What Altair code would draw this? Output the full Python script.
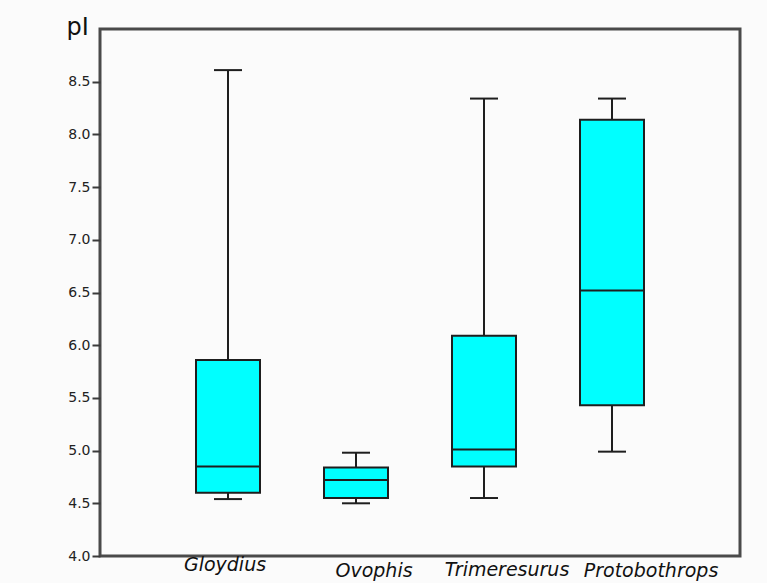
import altair as alt
import pandas as pd

# ---- data ----
genera = ["Gloydius", "Ovophis", "Trimeresurus", "Protobothrops"]
whisker_low = [4.54, 4.50, 4.55, 4.99]
q1 = [4.60, 4.55, 4.85, 5.43]
median = [4.85, 4.72, 5.01, 6.52]
q3 = [5.86, 4.84, 6.09, 8.14]
whisker_high = [8.61, 4.98, 8.34, 8.34]
y_ticks = [4.0, 4.5, 5.0, 5.5, 6.0, 6.5, 7.0, 7.5, 8.0, 8.5]

df = pd.DataFrame({
    "genus": genera,
    "lo": whisker_low,
    "q1": q1,
    "med": median,
    "q3": q3,
    "hi": whisker_high,
})

W, H = 640, 527
FONT = "DejaVu Sans"
LINE = "#1e1e1e"

xenc = alt.X("genus:N", sort=genera, scale=alt.Scale(type="point", padding=1), axis=None)
yscale = alt.Scale(domain=[4, 9], nice=False, zero=False)
yaxis = alt.Axis(
    values=y_ticks, format=".1f", title="pI", grid=False, domain=False,
    tickSize=8, tickWidth=2, tickColor="#3a3a3a",
    labelFont=FONT, labelFontSize=14, labelColor="#222222", labelPadding=2,
    titleAngle=0, titleAlign="left", titleBaseline="alphabetic",
    titleX=-34, titleY=5, titleFont=FONT, titleFontSize=24,
    titleFontWeight="normal", titleColor="#111111",
)


def Y(field):
    return alt.Y(f"{field}:Q", scale=yscale, axis=yaxis)


base = alt.Chart(df)

low_whisker = base.mark_rule(color=LINE, strokeWidth=2).encode(
    x=xenc, y=Y("lo"), y2="q1:Q")
high_whisker = base.mark_rule(color=LINE, strokeWidth=2).encode(
    x=xenc, y=Y("q3"), y2="hi:Q")
low_cap = base.mark_tick(color=LINE, size=28, thickness=2, opacity=1).encode(x=xenc, y=Y("lo"))
high_cap = base.mark_tick(color=LINE, size=28, thickness=2, opacity=1).encode(x=xenc, y=Y("hi"))
box = base.mark_bar(size=64, fill="#00FFFF", stroke=LINE, strokeWidth=2, opacity=1).encode(
    x=xenc, y=Y("q1"), y2="q3:Q")
med = base.mark_tick(color=LINE, size=64, thickness=2, opacity=1).encode(x=xenc, y=Y("med"))

# category labels (nudged like the reference)
nudges = {"Gloydius": (-3, -6), "Ovophis": (18, 0), "Trimeresurus": (23, -1), "Protobothrops": (39, 0)}
label_layers = []
for g in genera:
    dx, dy = nudges[g]
    label_layers.append(
        base.transform_filter(alt.datum.genus == g).mark_text(
            font=FONT, fontSize=19, fontStyle="italic", color="#111111",
            baseline="alphabetic", align="center", dx=dx, dy=dy,
        ).encode(x=xenc, y=alt.value(H + 21), text="genus:N")
    )

chart = alt.layer(
    low_whisker, high_whisker, low_cap, high_cap, box, med, *label_layers
).properties(
    width=W, height=H,
    autosize=alt.AutoSizeParams(type="none"),
    padding={"left": 100, "top": 29, "right": 27, "bottom": 27},
    background="#fbfbfb",
).configure_view(
    stroke="#4a4a4a", strokeWidth=3
)

chart.save("out.html", embed_options={"renderer": "svg", "actions": False})
